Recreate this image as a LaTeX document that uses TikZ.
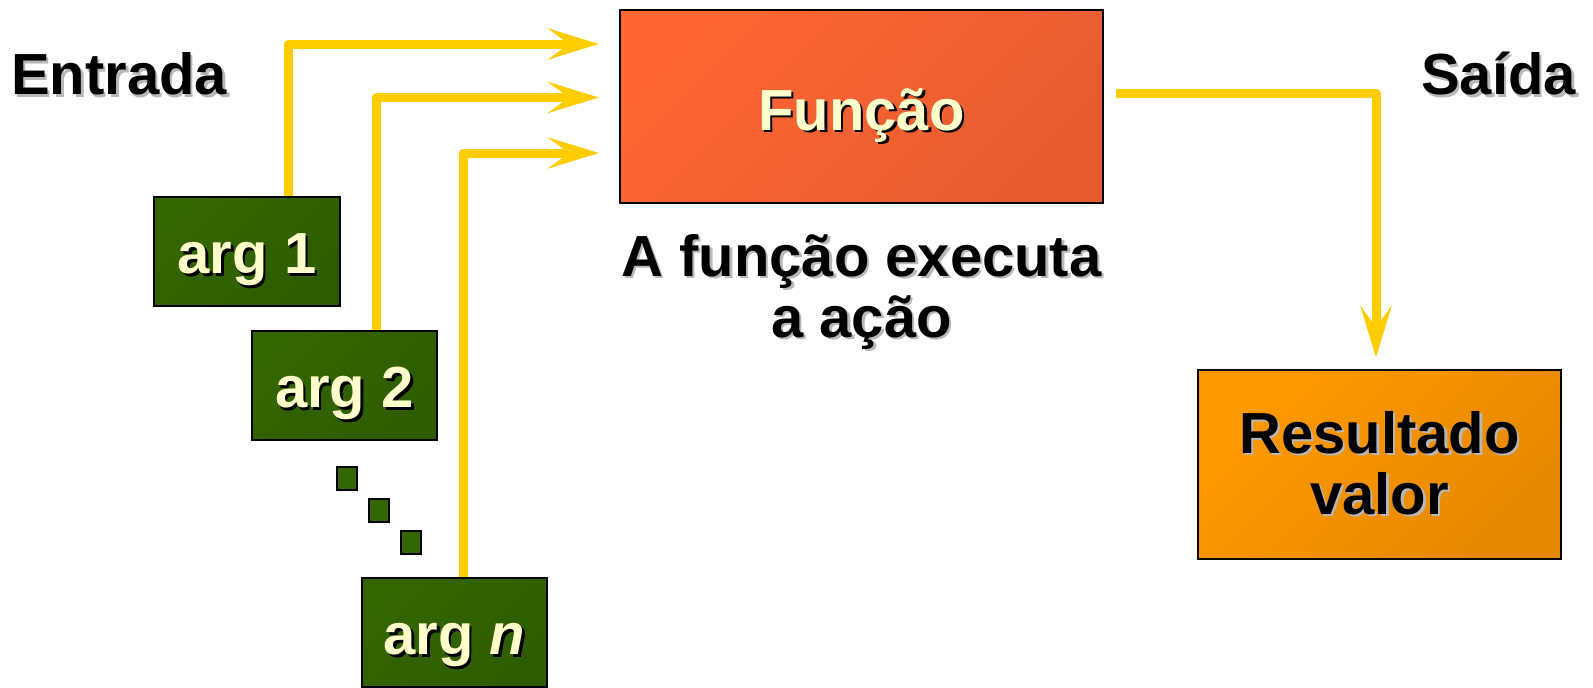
\documentclass[tikz,border=0pt]{standalone}
\usepackage{fontspec}
\setmainfont{Liberation Sans}
\usetikzlibrary{arrows.meta}
\definecolor{flowc}{HTML}{FFCC00}
\definecolor{argc}{HTML}{346600}
\definecolor{argd}{HTML}{2E5C00}
\definecolor{funca}{HTML}{FF6633}
\definecolor{funcb}{HTML}{E65C30}
\definecolor{resa}{HTML}{FF9900}
\definecolor{resb}{HTML}{E68800}
\definecolor{txty}{HTML}{FFFFCC}
\definecolor{shg}{HTML}{B8B8B8}
\newcommand{\shd}[2]{\leavevmode\rlap{\kern2.5pt\raisebox{-2.5pt}{\textcolor{#1}{#2}}}#2}
\begin{document}
\begin{tikzpicture}[x=1pt,y=-1pt,
  every node/.style={font=\fontsize{58}{61}\selectfont\bfseries, inner sep=0pt},
  box/.style={draw=black, line width=2pt},
  argbox/.style={box, top color=argc, bottom color=argd, shading angle=45,
    minimum width=185.5pt, minimum height=108.5pt, text=txty,
    text height=44pt, text depth=0pt},
  dotbox/.style={draw=black, line width=2pt, fill=argc,
    minimum width=20pt, minimum height=23pt},
  flow/.style={draw=flowc, line width=9pt, line join=round,
    -{Stealth[length=51pt,width=31pt,inset=21pt]}}
]
\useasboundingbox (0,0) rectangle (1593,688);

% main box
\node[box, top color=funca, bottom color=funcb, shading angle=45,
  minimum width=482.5pt, minimum height=192.5pt, text=txty,
  text height=47pt, text depth=0pt] (func) at (861.5,106.5) {\shd{black}{Função}};

% result box
\node[box, top color=resa, bottom color=resb, shading angle=45,
  minimum width=362.5pt, minimum height=188.5pt, align=center]
  (res) at (1379.5,464.5) {\shd{shg}{Resultado}\\\shd{shg}{valor}};

% argument boxes
\node[argbox] (arg1) at (247,251.5) {\shd{black}{arg 1}};
\node[argbox] (arg2) at (344.5,385.5) {\shd{black}{arg 2}};
\node[argbox] (argn) at (454.5,632.5) {\shd{black}{arg \textit{n}}};

% dots
\node[dotbox] (d1) at (347,478.5) {};
\node[dotbox] (d2) at (378.5,510.5) {};
\node[dotbox] (d3) at (411,542) {};

% labels
\node[anchor=base west] (entrada) at (11,94.5) {\shd{shg}{Entrada}};
\node[anchor=base west] (saida) at (1421,94.5) {\shd{shg}{Saída}};
\node[align=center, anchor=base] (caption) at (861.5,337)
  {\shd{shg}{A função executa}\\\shd{shg}{a ação}};

% connectors
\coordinate (t1) at (599,44);
\coordinate (t2) at (599,97.5);
\coordinate (t3) at (599,153);
\draw[flow] ([shift={(41,0)}]arg1.north) |- (t1);
\draw[flow] ([shift={(31.5,0)}]arg2.north) |- (t2);
\draw[flow] ([shift={(8.5,0)}]argn.north) |- (t3);

\coordinate (ostart) at ([shift={(12,-13)}]func.east);
\coordinate (otip) at ([shift={(-3.5,-12)}]res.north);
\draw[flow] (ostart) -| (otip);
\end{tikzpicture}
\end{document}
